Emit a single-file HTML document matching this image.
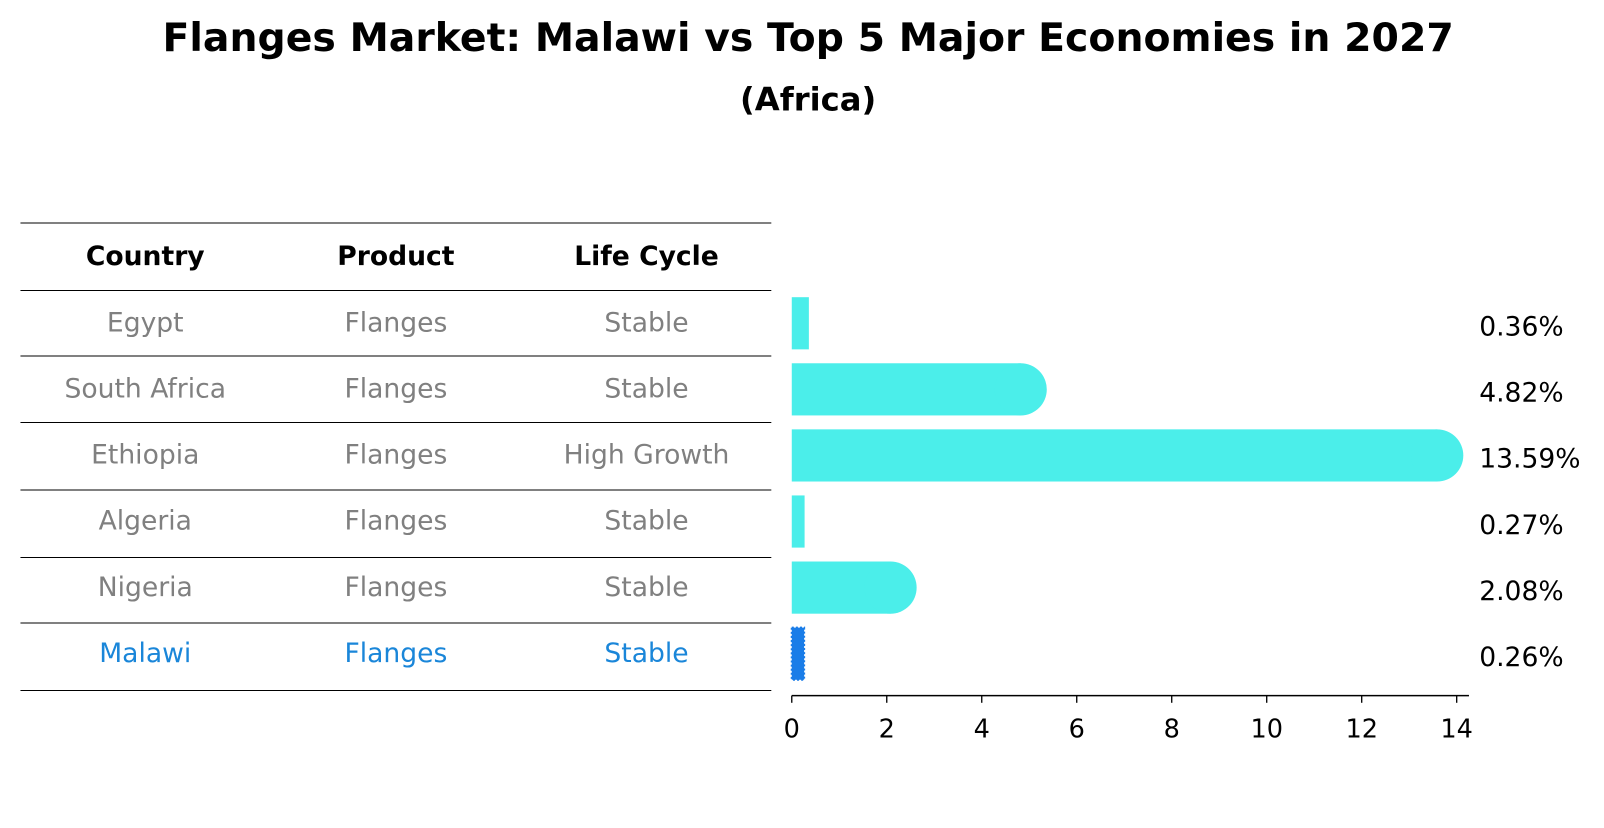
<!DOCTYPE html>
<html><head><meta charset="utf-8"><style>
body{margin:0;background:#fff;font-family:"Liberation Sans","DejaVu Sans",sans-serif}
svg text{font-family:"DejaVu Sans","Liberation Sans",sans-serif}
</style></head><body>
<svg width="1604" height="823" viewBox="0 0 1568 804.5" xmlns="http://www.w3.org/2000/svg">
<text x="790" y="50" text-anchor="middle" font-size="38.5" font-weight="bold">Flanges Market: Malawi vs Top 5 Major Economies in 2027</text>
<text x="790" y="108" text-anchor="middle" font-size="31.5" font-weight="bold">(Africa)</text>
<g id="table"></g>
<g id="bars"></g>
<g id="axis"></g>
</svg>
<script>
const countries=["Egypt","South Africa","Ethiopia","Algeria","Nigeria","Malawi"];
const products=["Flanges","Flanges","Flanges","Flanges","Flanges","Flanges"];
const lifeCycles=["Stable","Stable","High Growth","Stable","Stable","Stable"];
const values=[0.36,4.82,13.59,0.27,2.08,0.26];
const valueLabels=["0.36%","4.82%","13.59%","0.27%","2.08%","0.26%"];
const xTicks=[0,2,4,6,8,10,12,14];
const NS="http://www.w3.org/2000/svg";
function mk(tag,attrs,parent){const e=document.createElementNS(NS,tag);for(const k in attrs)e.setAttribute(k,attrs[k]);parent.appendChild(e);return e;}
const x=v=>774+v*(650/14);
const rowY=i=>316+i*64.6;
const tbl=document.getElementById('table');
const lines=[218,284,348,413,479,545,609,675];
lines.forEach(y=>{const l=mk('line',{x1:20,x2:754,y1:y,y2:y,stroke:'#000','stroke-width':1},tbl);

});
const cols=[142,387,632];
["Country","Product","Life Cycle"].forEach((h,j)=>{const t=mk('text',{x:cols[j],y:259,'text-anchor':'middle','font-size':26,'font-weight':'bold'},tbl);t.textContent=h;

});
countries.forEach((c,i)=>{const col=i===5?'#1a86d9':'#808080';
[c,products[i],lifeCycles[i]].forEach((s,j)=>{const t=mk('text',{x:cols[j],y:rowY(i)+8,'text-anchor':'middle','font-size':26,fill:col},tbl);t.textContent=s;

});});
const bars=document.getElementById('bars');
const h=51,r=25.5;
values.forEach((v,i)=>{const y=rowY(i)-h/2;const w=x(v)-x(0);
if(i===5){const b=mk('rect',{x:x(0),y:y,width:w,height:h,fill:'#1a7de8',stroke:'#1a7de8','stroke-width':2,'stroke-dasharray':'2 2'},bars);

}
else{const g=mk('g',{},bars);


mk('rect',{x:x(0),y:y,width:w,height:h,fill:'#4beeea'},g);
if(w>r){mk('circle',{cx:x(v),cy:rowY(i),r:r,fill:'#4beeea'},g);}}
const t=mk('text',{x:1446,y:rowY(i)+12,'font-size':26},bars);t.textContent=valueLabels[i];

});
const ax=document.getElementById('axis');
mk('line',{x1:774,x2:1436,y1:680,y2:680,stroke:'#000','stroke-width':1.5},ax);
xTicks.forEach(v=>{mk('line',{x1:x(v),x2:x(v),y1:680,y2:687,stroke:'#000','stroke-width':1.3},ax);
const t=mk('text',{x:x(v),y:721,'text-anchor':'middle','font-size':25},ax);t.textContent=v;

});
</script>
</body></html>
